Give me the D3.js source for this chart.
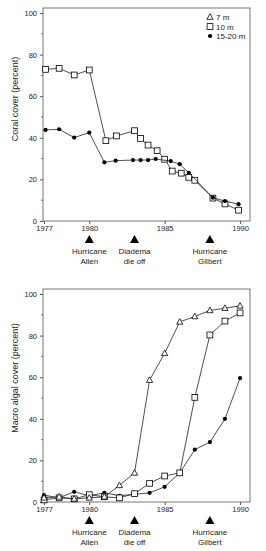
<!DOCTYPE html>
<html>
<head>
<meta charset="utf-8">
<script src="https://cdn.jsdelivr.net/npm/d3@7"></script>
<style>
  body { margin: 0; background: #fff; }
  svg text { font-family: "Liberation Sans", Arial, sans-serif; fill: #222; }
</style>
</head>
<body>
<div id="container"></div>
<script>
// coral cover (top panel)
const coral10Years = [1977.1, 1978, 1979, 1980, 1981.1, 1981.8, 1983, 1983.4, 1983.9, 1984.5, 1985, 1985.5, 1986.1, 1986.6, 1987, 1988.2, 1989, 1989.9];
const coral10 = [72.9, 73.4, 70.2, 72.6, 38.6, 40.9, 43.4, 39.7, 36.5, 33.8, 29.7, 24, 23, 21, 19.6, 11, 8.2, 5.2];
const coral1520Years = [1977.1, 1978, 1979, 1980, 1981, 1981.75, 1982.9, 1983.4, 1983.9, 1984.4, 1985.4, 1986, 1986.6, 1988.2, 1989, 1989.9];
const coral1520 = [43.8, 44.1, 40.1, 42.5, 28.2, 29, 29.3, 29.3, 29.3, 29.8, 28.8, 27.3, 23.2, 11.2, 9.6, 8.1];

// macro algal cover (bottom panel)
const algaeYears = [1977, 1978, 1979, 1980, 1981, 1982, 1983, 1984, 1985, 1986, 1987, 1988, 1989, 1990];
const algae7 = [2, 2.5, 1.5, 2, 2.5, 8, 14, 58.6, 71.5, 86.6, 89.2, 92.1, 93.2, 94.3];
const algae10 = [1, 2, 1.5, 3.5, 2.5, 2, 4, 9, 12.5, 14, 50.3, 80.3, 87, 90.9];
const algae1520 = [3.3, 2, 4.9, 3, 4.4, 3, 3.7, 4.4, 7.3, 14, 25.2, 28.8, 40, 59.6];

const yearTicks = [1977, 1980, 1985, 1990];
const yTicks = [0, 20, 40, 60, 80, 100];
const yMinor = [10, 30, 50, 70, 90];
const events = [
  {year: 1980, lines: ["Hurricane", "Allen"]},
  {year: 1983, lines: ["Diadema", "die off"]},
  {year: 1988, lines: ["Hurricane", "Gilbert"]}
];
const legendLabels = ["7 m", "10 m", "15-20 m"];
const legendShapes = ["triangle", "square", "circle"];

const W = 266, H = 551;
const svg = d3.select("#container").append("svg").attr("width", W).attr("height", H);

const zip = (xs, ys) => xs.map((x, i) => ({x: x, y: ys[i]}));

const drawMarker = (g, shape, px, py) => {
  if (shape == "circle") {
    g.append("circle").attr("cx", px).attr("cy", py).attr("r", 2.1).attr("fill", "#000");
  } else if (shape == "square") {
    g.append("rect").attr("x", px - 2.9).attr("y", py - 2.9).attr("width", 5.8).attr("height", 5.8)
      .attr("fill", "#fff").attr("stroke", "#000").attr("stroke-width", 0.8);
  } else {
    g.append("path").attr("d", `M${px},${py - 3.3}L${px + 3.1},${py + 2.3}L${px - 3.1},${py + 2.3}Z`)
      .attr("fill", "#fff").attr("stroke", "#000").attr("stroke-width", 0.8);
  }
};

const panel = (top, bottom, title, titleY, series, legend) => {
  const x = d3.scaleLinear().domain([1976.93, 1990.66]).range([43, 250]);
  const y = d3.scaleLinear().domain([0, 100]).range([bottom, top + 5]);
  const g = svg.append("g");

  g.append("rect").attr("x", 43).attr("y", top).attr("width", 207).attr("height", bottom - top)
    .attr("fill", "none").attr("stroke", "#555").attr("stroke-width", 0.8);

  // y axis
  const ya = g.append("g").attr("transform", "translate(43,0)")
    .call(d3.axisLeft(y).tickValues(yTicks).tickSize(3).tickPadding(3));
  ya.select(".domain").remove();
  ya.selectAll("line").attr("stroke", "#555");
  ya.selectAll("text").attr("font-size", 7.5).style("font-family", "Liberation Sans, Arial, sans-serif").attr("fill", "#333");
  g.selectAll(".minor").data(yMinor).enter().append("line")
    .attr("x1", 41).attr("x2", 43).attr("y1", d => y(d)).attr("y2", d => y(d))
    .attr("stroke", "#555").attr("stroke-width", 0.8);

  // x axis
  const xa = g.append("g").attr("transform", `translate(0,${bottom})`)
    .call(d3.axisBottom(x).tickValues(yearTicks).tickFormat(d3.format("d")).tickSize(3).tickPadding(2));
  xa.select(".domain").remove();
  xa.selectAll("line").attr("stroke", "#555");
  xa.selectAll("text").attr("font-size", 7.5).style("font-family", "Liberation Sans, Arial, sans-serif").attr("fill", "#333");

  g.append("text").attr("transform", `translate(18,${titleY}) rotate(-90)`)
    .attr("text-anchor", "middle").attr("font-size", 9).text(title);

  const line = d3.line().x(d => x(d.x)).y(d => y(d.y));
  series.forEach(s => {
    const pts = zip(s.xs, s.ys);
    g.append("path").attr("d", line(pts)).attr("fill", "none").attr("stroke", "#222").attr("stroke-width", 0.8);
    pts.forEach(p => drawMarker(g, s.shape, x(p.x), y(p.y)));
  });

  if (legend) {
    legendLabels.forEach((lab, i) => {
      const ly = top + 9 + i * 9.5;
      drawMarker(g, legendShapes[i], 210, ly);
      g.append("text").attr("x", 216).attr("y", ly + 3).attr("font-size", 8).text(lab);
    });
  }

  // event markers
  events.forEach(e => {
    const ex = x(e.year);
    const ay = bottom + 19;
    g.append("path").attr("d", `M${ex},${ay - 5}L${ex + 4.5},${ay + 3}L${ex - 4.5},${ay + 3}Z`).attr("fill", "#000");
    e.lines.forEach((t, j) => {
      g.append("text").attr("x", ex).attr("y", ay + 14 + j * 9.5).attr("text-anchor", "middle")
        .attr("font-size", 8).text(t);
    });
  });
};

panel(8, 221, "Coral cover (percent)", 99, [
  {xs: coral10Years, ys: coral10, shape: "square"},
  {xs: coral1520Years, ys: coral1520, shape: "circle"}
], true);

panel(289, 502, "Macro algal cover (percent)", 378, [
  {xs: algaeYears, ys: algae1520, shape: "circle"},
  {xs: algaeYears, ys: algae10, shape: "square"},
  {xs: algaeYears, ys: algae7, shape: "triangle"}
], false);
</script>
</body>
</html>
